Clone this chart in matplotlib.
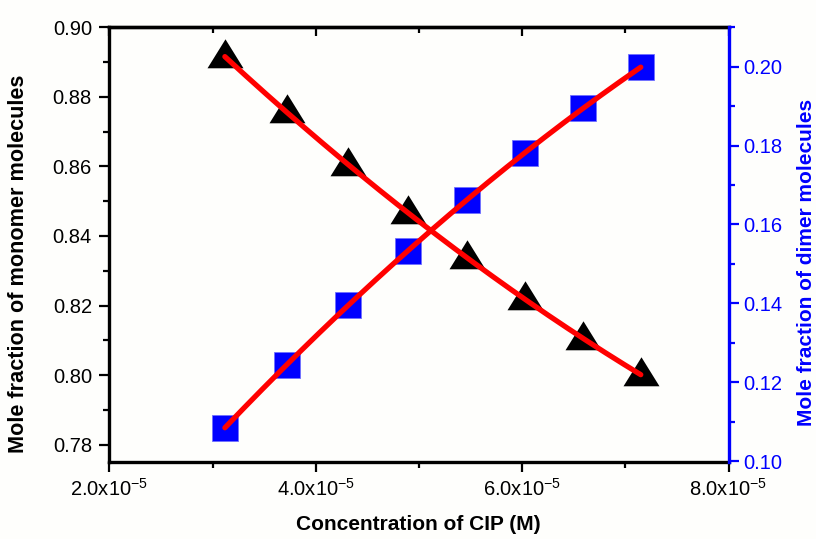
import numpy as np
import matplotlib
matplotlib.use('Agg')
import matplotlib.pyplot as plt
from matplotlib.ticker import MultipleLocator, FixedLocator

# ---- data ----
conc = [3.12e-5, 3.72e-5, 4.31e-5, 4.89e-5, 5.47e-5, 6.03e-5, 6.59e-5, 7.15e-5]
monomer = [0.8916, 0.8756, 0.8605, 0.8467, 0.8338, 0.8218, 0.8105, 0.8001]
dimer = [0.1084, 0.1244, 0.1395, 0.1533, 0.1662, 0.1782, 0.1895, 0.1999]

xticks = [2e-5, 4e-5, 6e-5, 8e-5]
xtick_labels = ['2.0x10$^{-5}$', '4.0x10$^{-5}$', '6.0x10$^{-5}$', '8.0x10$^{-5}$']
left_ticks = [0.78, 0.80, 0.82, 0.84, 0.86, 0.88, 0.90]
left_tick_labels = ['0.78', '0.80', '0.82', '0.84', '0.86', '0.88', '0.90']
right_ticks = [0.10, 0.12, 0.14, 0.16, 0.18, 0.20]
right_tick_labels = ['0.10', '0.12', '0.14', '0.16', '0.18', '0.20']

xlabel = 'Concentration of CIP (M)'
ylabel_left = 'Mole fraction of monomer molecules'
ylabel_right = 'Mole fraction of dimer molecules'

# ---- style ----
plt.rcParams['font.family'] = ['Liberation Sans', 'DejaVu Sans']
plt.rcParams['mathtext.fontset'] = 'custom'
plt.rcParams['mathtext.rm'] = 'Liberation Sans'
plt.rcParams['mathtext.it'] = 'Liberation Sans:italic'
plt.rcParams['mathtext.bf'] = 'Liberation Sans:bold'

W, H = 816, 539
fig = plt.figure(figsize=(W / 100, H / 100), dpi=100)
bg = '#fefefc'
fig.patch.set_facecolor(bg)

L, R, B, T = 109.3, 728.5, 462.0, 27.3
ax = fig.add_axes([L / W, 1 - B / H, (R - L) / W, (B - T) / H])
ax.set_facecolor(bg)
ax2 = ax.twinx()

BLUE = '#0000ff'
tick_fs = 14.5

# triangle marker (data point below bbox centre, like Origin)
tri = [(-18, -10.8), (18, -10.8), (0, 18.2)]

x = np.array(conc)
xs = x * 1e5
xf = np.linspace(xs[0], xs[-1], 200)

# monomer (left)
ax.plot(x, monomer, linestyle='none', marker=tri, markersize=26.2,
        color='black', markeredgewidth=0, zorder=3)
pm = np.polyfit(xs, monomer, 2)
ax.plot(xf / 1e5, np.polyval(pm, xf), color='#ff0000', lw=3.8,
        solid_capstyle='round', zorder=4)

# dimer (right)
ax2.plot(x, dimer, linestyle='none', marker='s', markersize=18.6,
         markerfacecolor=BLUE, markeredgecolor='#7070ff', markeredgewidth=0.6,
         zorder=3)
pd_ = np.polyfit(xs, dimer, 2)
ax2.plot(xf / 1e5, np.polyval(pd_, xf), color='#ff0000', lw=3.8,
         solid_capstyle='round', zorder=4)

# limits
ax.set_xlim(2e-5, 8e-5)
ax.set_ylim(0.775, 0.90)
ax2.set_ylim(0.09975, 0.21)

# x ticks
ax.xaxis.set_major_locator(FixedLocator(xticks))
ax.set_xticklabels(xtick_labels)
ax.xaxis.set_minor_locator(MultipleLocator(1e-5))
ax.tick_params(axis='x', which='major', direction='out', length=7.5, width=1.6,
               labelsize=tick_fs, pad=4, top=False)
ax.tick_params(axis='x', which='minor', direction='out', length=4, width=1.6, top=False)

secx = ax.secondary_xaxis('top')
secx.xaxis.set_major_locator(FixedLocator(xticks))
secx.xaxis.set_minor_locator(MultipleLocator(1e-5))
secx.tick_params(axis='x', which='major', direction='in', length=6.5, width=1.6, labeltop=False)
secx.tick_params(axis='x', which='minor', direction='in', length=4.5, width=1.6, labeltop=False)
secx.spines['top'].set_linewidth(2.4)

# left y ticks
ax.yaxis.set_major_locator(FixedLocator(left_ticks))
ax.set_yticklabels(left_tick_labels)
ax.yaxis.set_minor_locator(MultipleLocator(0.01))
ax.tick_params(axis='y', which='major', direction='out', length=7.5, width=1.6,
               labelsize=tick_fs, pad=5)
ax.tick_params(axis='y', which='minor', direction='out', length=4, width=1.6)

# right y ticks
ax2.yaxis.set_major_locator(FixedLocator(right_ticks))
ax2.set_yticklabels(right_tick_labels)
ax2.yaxis.set_minor_locator(MultipleLocator(0.01))
ax2.tick_params(axis='y', which='major', direction='out', length=7.5, width=1.6,
                labelsize=tick_fs, pad=3, colors=BLUE)
ax2.tick_params(axis='y', which='minor', direction='out', length=4, width=1.6, colors=BLUE)

for s in ['left', 'bottom', 'top']:
    ax.spines[s].set_linewidth(2.4)
ax.spines['right'].set_visible(False)
for s in ['left', 'bottom', 'top']:
    ax2.spines[s].set_visible(False)
ax2.spines['right'].set_linewidth(2.4)
ax2.spines['right'].set_color(BLUE)

# axis labels
fig.text(418 / W, 1 - 525 / H, xlabel, ha='center', va='center',
         fontsize=15, fontweight='bold')
fig.text(19 / W, 1 - 264 / H, ylabel_left, ha='center', va='center',
         rotation=90, fontsize=15.6, fontweight='bold')
fig.text(806 / W, 1 - 262.5 / H, ylabel_right, ha='center', va='center',
         rotation=90, fontsize=15, fontweight='bold', color=BLUE)

fig.savefig('out.png', dpi=100, facecolor=bg)
